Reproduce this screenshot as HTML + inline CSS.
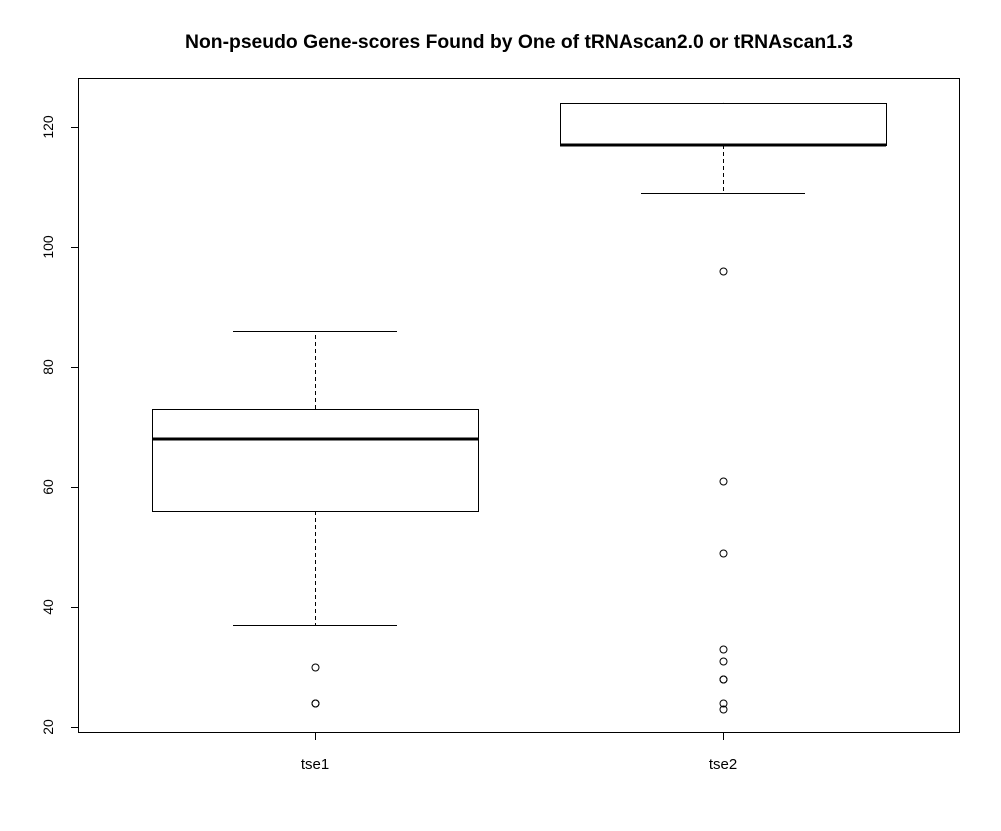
<!DOCTYPE html>
<html><head><meta charset="utf-8"><style>
html,body{margin:0;padding:0;background:#fff;}
svg{display:block;font-family:"Liberation Sans",Arial,sans-serif;}
</style></head><body>
<svg id="chart" width="1001" height="831" viewBox="0 0 1001 831" xmlns="http://www.w3.org/2000/svg">
<rect width="1001" height="831" fill="#fff"/>
<text x="519" y="48" text-anchor="middle" font-size="19" font-weight="bold" textLength="668" lengthAdjust="spacingAndGlyphs">Non-pseudo Gene-scores Found by One of tRNAscan2.0 or tRNAscan1.3</text>
<rect x="78.5" y="78.5" width="881" height="654" fill="none" stroke="#000" stroke-width="1"/>
<g id="g"></g>
</svg>
<script>
const categories = ["tse1","tse2"];
const lowerWhisker = [37,109];
const q1 = [56,117];
const median = [68,117];
const q3 = [73,124];
const upperWhisker = [86,124];
const outliers = [[30,24,24],[96,61,49,33,31,28,28,24,23]];
const yTicks = [20,40,60,80,100,120];

const ns="http://www.w3.org/2000/svg";
const g=document.getElementById('g');
function y(v){return 727-(v-20)*6;}
function x(i){return 315+i*408;}
const halfBox=163, halfCap=82;
function el(tag,attrs){const e=document.createElementNS(ns,tag);for(const k in attrs)e.setAttribute(k,attrs[k]);g.appendChild(e);return e;}

yTicks.forEach(t=>{
  const l=el('line',{x1:71,x2:78.5,y1:y(t)+0.5,y2:y(t)+0.5,stroke:'#000'});
  
  
  const tx=el('text',{x:0,y:0,'font-size':14,'text-anchor':'middle',transform:`translate(53,${y(t)}) rotate(-90)`});
  tx.textContent=t;
  
  
});

categories.forEach((c,i)=>{
  const cx=x(i)+0.5;
  const t=el('line',{x1:cx,x2:cx,y1:733,y2:740,stroke:'#000'});
  
  
  const lb=el('text',{x:x(i),y:769,'font-size':15,'text-anchor':'middle'});
  lb.textContent=c;
  
  
  const w1=el('line',{x1:cx,x2:cx,y1:y(q3[i]),y2:y(upperWhisker[i]),stroke:'#000','stroke-dasharray':'4,3'});
  
  
  const w2=el('line',{x1:cx,x2:cx,y1:y(q1[i]),y2:y(lowerWhisker[i]),stroke:'#000','stroke-dasharray':'4,3'});
  
  
  const c1=el('line',{x1:x(i)-halfCap,x2:x(i)+halfCap,y1:y(upperWhisker[i])+0.5,y2:y(upperWhisker[i])+0.5,stroke:'#000'});
  
  
  const c2=el('line',{x1:x(i)-halfCap,x2:x(i)+halfCap,y1:y(lowerWhisker[i])+0.5,y2:y(lowerWhisker[i])+0.5,stroke:'#000'});
  
  
  const b=el('rect',{x:x(i)-halfBox+0.5,y:y(q3[i])+0.5,width:halfBox*2,height:y(q1[i])-y(q3[i]),fill:'none',stroke:'#000'});
  
  
  const m=el('line',{x1:x(i)-halfBox,x2:x(i)+halfBox,y1:y(median[i]),y2:y(median[i]),stroke:'#000','stroke-width':3});
  
  
  outliers[i].forEach(v=>{
    const o=el('circle',{cx:cx,cy:y(v)+0.5,r:3.5,fill:'none',stroke:'#000'});
    
    
  });
});
</script>
</body></html>
